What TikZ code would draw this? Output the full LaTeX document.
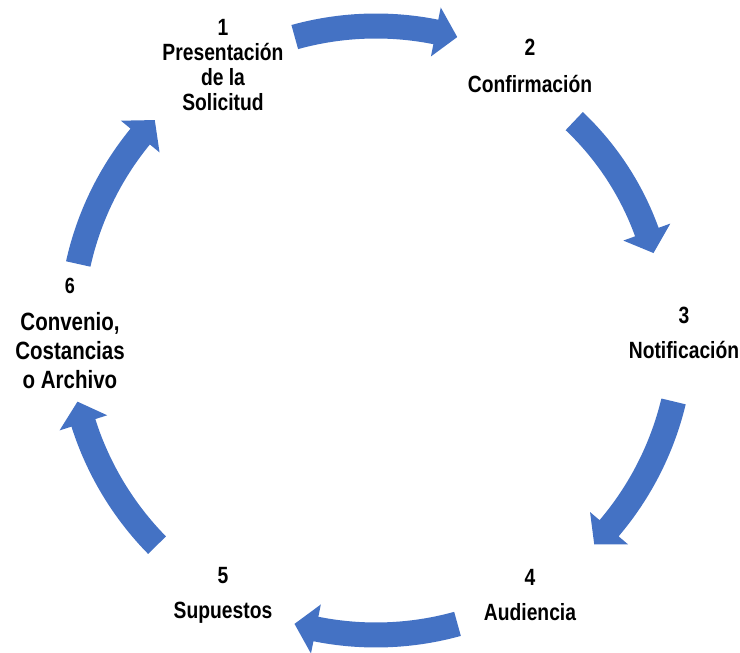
\documentclass[tikz,border=0pt]{standalone}
\usepackage{fontspec}
\setmainfont{Liberation Sans}[FakeStretch=0.82]
\definecolor{arrowblue}{HTML}{4472C4}
\newcommand\cycarrow[3]{%
  \pgfmathsetmacro\cta{#1+15.5}%
  \pgfmathsetmacro\ctb{#1-15.5}%
  \pgfmathsetmacro\chb{#1-15.5+22/(#2)*57.3}%
  \fill[arrowblue] (\cta:{#2+12.5}) arc[start angle=\cta, end angle=\chb, radius={#2+12.5}]
    -- (\chb:{#2+25}) -- (\ctb:#2) -- (\chb:{#2-25}) -- (\chb:{#2-12.5})
    arc[start angle=\chb, end angle=\cta, radius={#2-12.5}] -- cycle;
}
\tikzset{
  lab/.style={font=\bfseries\fontsize{23.5}{25}\selectfont, align=center, inner sep=0pt, text=black},
}
\begin{document}
\begin{tikzpicture}[x=1pt,y=1pt]
\useasboundingbox (0,0) rectangle (740,653);
\begin{scope}[shift={(376,323)}]
  \cycarrow{90}{304}{}
  \cycarrow{31}{288}{}
  \cycarrow{-29}{306}{}
  \cycarrow{-90}{305}{}
  \cycarrow{-151}{307}{}
  \cycarrow{152}{305}{}
\end{scope}
\node[lab] (n1) at (223,588) {1\\Presentación\\de la\\Solicitud};
\node[lab] (n2) at (530,587) {2\\[12pt]Confirmación};
\node[lab] (n3) at (684,320.5) {3\\[10pt]Notificación};
\node[lab] (n4) at (530,57.5) {4\\[10pt]Audiencia};
\node[lab] (n5) at (223,57.5) {5\\[10pt]Supuestos};
\node[lab, font=\bfseries\fontsize{25}{29}\selectfont] (n6) at (70,319.5) {{\fontsize{22}{25}\selectfont 6}\\[8pt]Convenio,\\Costancias\\o Archivo};
\end{tikzpicture}
\end{document}
